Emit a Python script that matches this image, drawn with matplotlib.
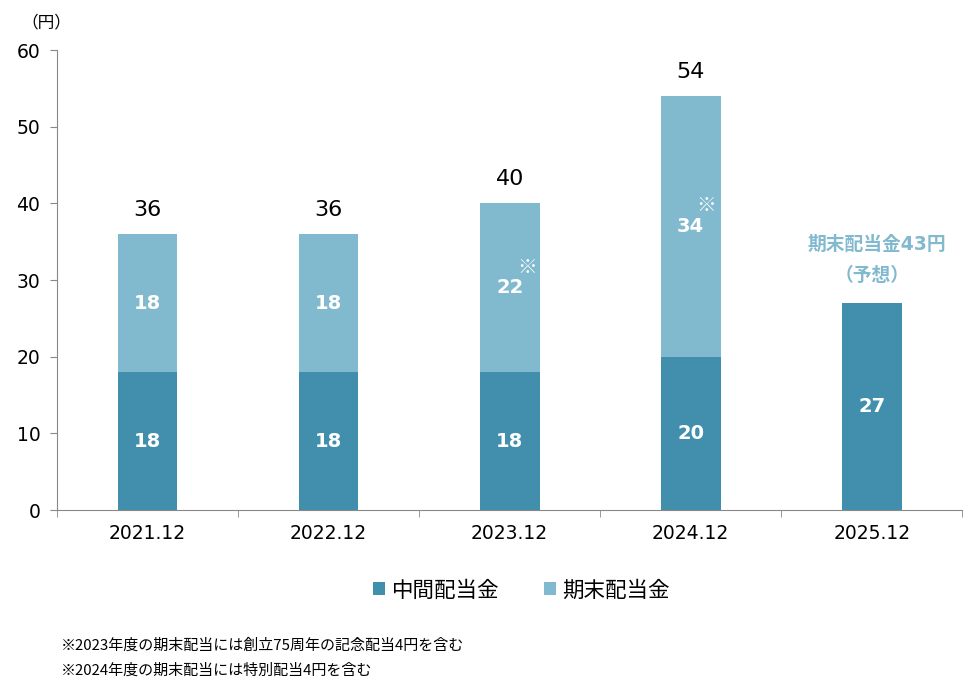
import numpy as np
import matplotlib.pyplot as plt

plt.rcParams['font.family'] = ['DejaVu Sans', 'Noto Sans CJK JP']

years = ['2021.12', '2022.12', '2023.12', '2024.12', '2025.12']
interim = [18, 18, 18, 20, 27]
year_end = [18, 18, 22, 34, 0]
totals = [36, 36, 40, 54, None]

c_dark = '#428FAD'
c_light = '#81B9CE'

fig = plt.figure(figsize=(9.75, 6.96), dpi=100)
ax = fig.add_axes([0.0585, 0.267, 0.9285, 0.661])

x = np.arange(len(years))
w = 0.33
ax.bar(x, interim, w, color=c_dark, label='中間配当金')
ax.bar(x[:4], year_end[:4], w, bottom=interim[:4], color=c_light, label='期末配当金')

for i in range(len(years)):
    ax.text(x[i], interim[i] / 2, str(interim[i]), ha='center', va='center',
            color='white', fontsize=14, fontweight='bold')
    if year_end[i]:
        ax.text(x[i], interim[i] + year_end[i] / 2, str(year_end[i]), ha='center',
                va='center', color='white', fontsize=14, fontweight='bold')
    if totals[i]:
        ax.text(x[i], totals[i] + 3.2, str(totals[i]), ha='center', va='center',
                fontsize=16)

ax.text(x[2] + 0.095, 31.7, '※', ha='center', va='center', color='white',
        fontsize=14, family=['Noto Sans CJK JP'])
ax.text(x[3] + 0.085, 39.7, '※', ha='center', va='center', color='white',
        fontsize=14, family=['Noto Sans CJK JP'])

ax.text(x[4] + 0.03, 34.7, '期末配当金43円', ha='center', va='center', color=c_light,
        fontsize=13.5, fontweight='bold')
ax.text(x[4], 30.6, '（予想）', ha='center', va='center', color=c_light,
        fontsize=13.5, fontweight='bold', family=['Noto Sans CJK JP'])

ax.set_xlim(-0.5, 4.5)
ax.set_ylim(0, 60)
ax.set_yticks(range(0, 61, 10))
ax.set_xticks(x)
ax.set_xticklabels(years)
ax.set_xticks(np.arange(-0.5, 5, 1), minor=True)
ax.tick_params(axis='x', which='major', length=0, pad=10, labelsize=13.5)
ax.tick_params(axis='x', which='minor', length=5, color='#888888')
ax.tick_params(axis='y', length=5, color='#888888', pad=7, labelsize=13.5)
for s in ['top', 'right']:
    ax.spines[s].set_visible(False)
for s in ['left', 'bottom']:
    ax.spines[s].set_color('#888888')

fig.text(0.047, 0.967, '（円）', ha='center', va='center', fontsize=12,
         family=['Noto Sans CJK JP'])

fig.legend(loc='center', bbox_to_anchor=(0.535, 0.152), ncol=2, frameon=False,
           fontsize=15.5, handlelength=0.55, handleheight=0.55, columnspacing=2.1,
           handletextpad=0.3)

fig.text(0.062, 0.073, '※2023年度の期末配当には創立75周年の記念配当4円を含む',
         fontsize=10.8, va='center', family=['Noto Sans CJK JP'])
fig.text(0.062, 0.037, '※2024年度の期末配当には特別配当4円を含む',
         fontsize=10.8, va='center', family=['Noto Sans CJK JP'])

fig.savefig('out.png', dpi=100)
